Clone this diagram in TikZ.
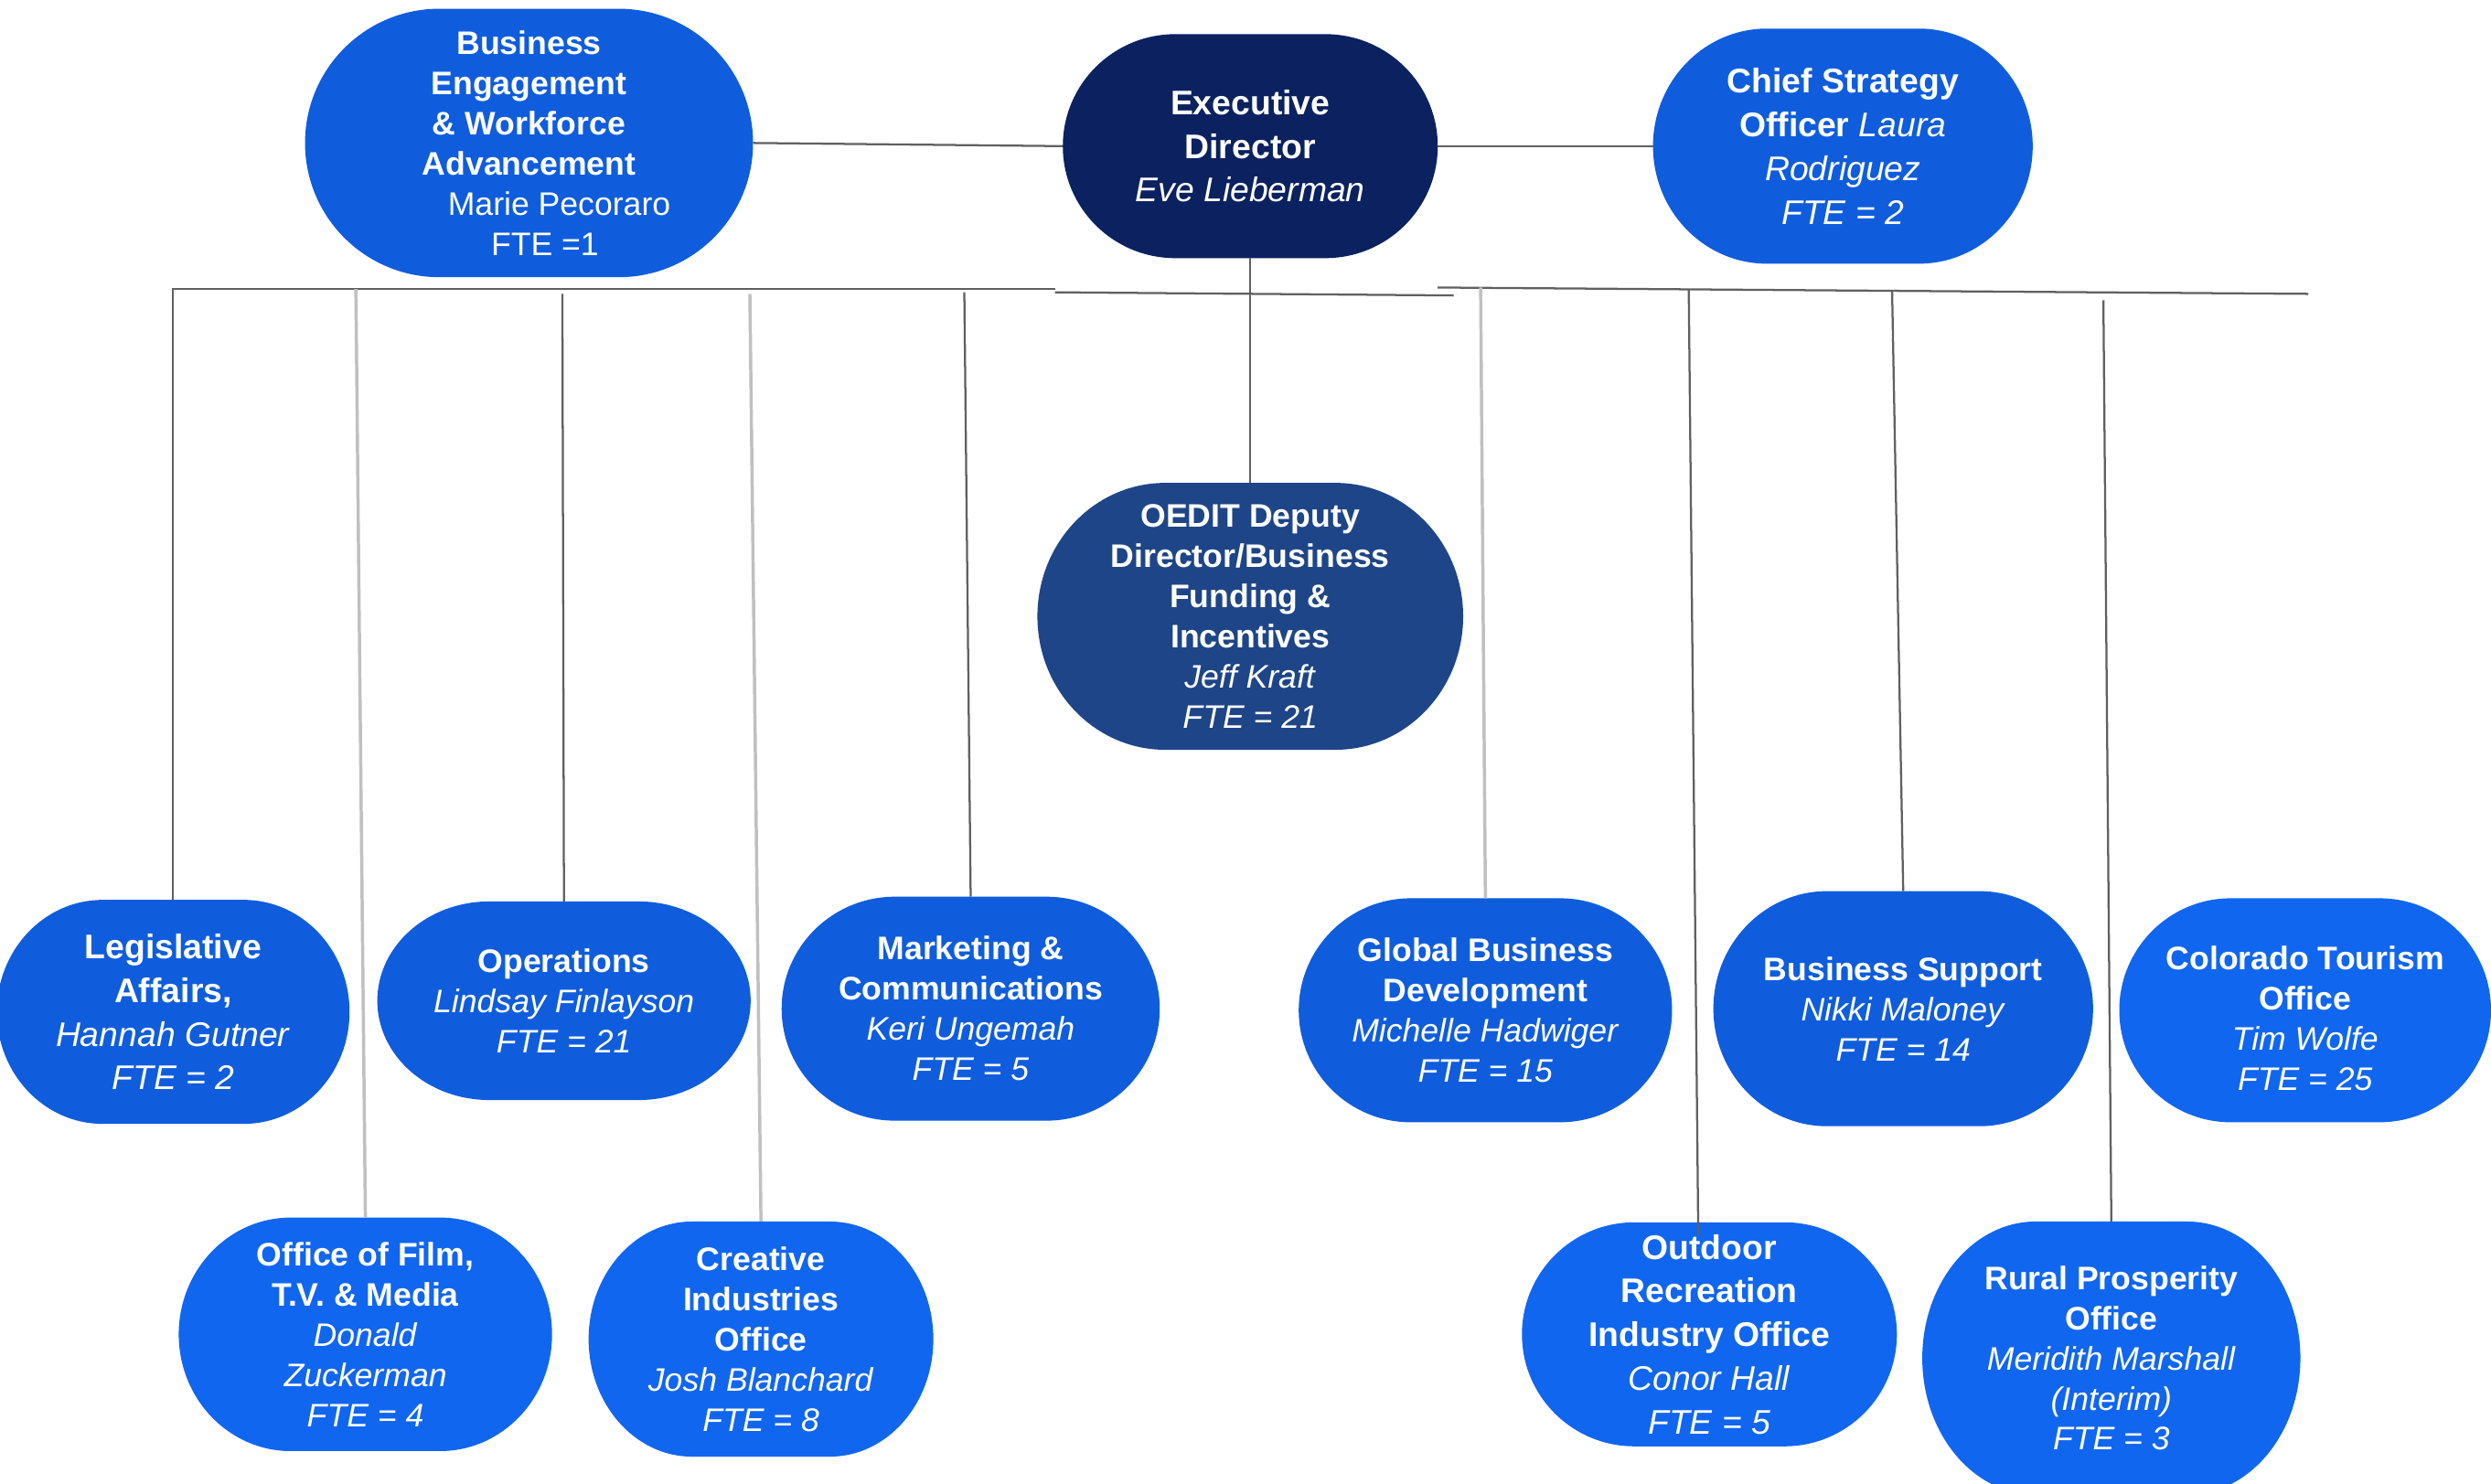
\documentclass[tikz,border=0pt]{standalone}
\usepackage{fontspec}
\setmainfont{Liberation Sans}
\definecolor{bblue}{HTML}{0F5DDD}
\definecolor{lblue}{HTML}{1166EF}
\definecolor{navy}{HTML}{0B2160}
\definecolor{mnavy}{HTML}{1E4587}
\definecolor{dline}{HTML}{606060}
\definecolor{lline}{HTML}{C0C0C0}
\newcommand\mybf[1]{\textbf{#1}}
\newcommand\myit[1]{\textit{#1}}
\newcommand\orgblob[5]{%
  \pgfmathsetmacro\bXl{#1-#3/2}\pgfmathsetmacro\bXr{#1+#3/2}%
  \pgfmathsetmacro\bYt{#2-#4/2}\pgfmathsetmacro\bYb{#2+#4/2}%
  \pgfmathsetmacro\bRx{0.3*#3}\pgfmathsetmacro\bRy{#4/2}%
  \pgfmathsetmacro\bXa{\bXl+\bRx}\pgfmathsetmacro\bXb{\bXr-\bRx}%
  \pgfmathsetmacro\bKx{0.5523*\bRx}\pgfmathsetmacro\bKy{0.5523*\bRy}%
  \fill[#5] (\bXa,\bYt) .. controls (\bXa-\bKx,\bYt) and (\bXl,#2-\bKy) .. (\bXl,#2)
     .. controls (\bXl,#2+\bKy) and (\bXa-\bKx,\bYb) .. (\bXa,\bYb) -- (\bXb,\bYb)
     .. controls (\bXb+\bKx,\bYb) and (\bXr,#2+\bKy) .. (\bXr,#2)
     .. controls (\bXr,#2-\bKy) and (\bXb+\bKx,\bYt) .. (\bXb,\bYt) -- cycle;
}
\newcommand\orgnode[8][]{%
  \orgblob{#3}{#4}{#5}{#6}{#7}
  \node[box, minimum width=#5pt, minimum height=#6pt, #1] (#2) at (#3,#4) {#8};
}
\begin{document}
\begin{tikzpicture}[x=1pt,y=-1pt,
  box/.style={inner sep=0pt, outer sep=0pt, text=white, align=center, font=\fontsize{20.5}{25.3}\selectfont},
  big/.style={font=\fontsize{21.5}{27.5}\selectfont},
  dk/.style={draw=dline, line width=1.3pt},
  lt/.style={draw=lline, line width=2pt}]
\useasboundingbox (0,0) rectangle (1568,934);
\fill[white] (0,0) rectangle (1568,934);

\orgnode{be}{333}{90}{282}{169}{bblue}{\mybf{Business}\\\mybf{Engagement}\\\mybf{\& Workforce}\\\mybf{Advancement}\\\hspace*{38pt}Marie Pecoraro\\\hspace*{20pt}FTE =1}
\orgnode[big]{ed}{787}{92}{236}{141}{navy}{\mybf{Executive}\\\mybf{Director}\\\myit{Eve Lieberman}}
\orgnode[big]{cso}{1160}{92}{239}{148}{bblue}{\mybf{Chief Strategy}\\\mybf{Officer} \myit{Laura}\\\myit{Rodriguez}\\\myit{FTE = 2}}
\orgnode{oedit}{787}{388}{268}{168}{mnavy}{\mybf{OEDIT Deputy}\\\mybf{Director/Business}\\\mybf{Funding \&}\\\mybf{Incentives}\\\myit{Jeff Kraft}\\\myit{FTE = 21}}

\orgnode[big]{leg}{109}{637}{222}{141}{bblue}{\mybf{Legislative}\\\mybf{Affairs,}\\\myit{Hannah Gutner}\\\myit{FTE = 2}}
\orgnode{ops}{355}{630}{235}{125}{bblue}{\mybf{Operations}\\\myit{Lindsay Finlayson}\\\myit{FTE = 21}}
\orgnode{mkt}{611}{635}{238}{141}{bblue}{\mybf{Marketing \&}\\\mybf{Communications}\\\myit{Keri Ungemah}\\\myit{FTE = 5}}
\orgnode{gbd}{935}{636}{235}{141}{bblue}{\mybf{Global Business}\\\mybf{Development}\\\myit{Michelle Hadwiger}\\\myit{FTE = 15}}
\orgnode{bs}{1198}{635}{239}{148}{bblue}{\mybf{Business Support}\\\myit{Nikki Maloney}\\\myit{FTE = 14}}
\orgnode[yshift=-5pt]{cto}{1451}{636}{234}{141}{lblue}{\mybf{Colorado Tourism}\\\mybf{Office}\\\myit{Tim Wolfe}\\\myit{FTE = 25}}

\orgnode{film}{230}{840}{235}{147}{lblue}{\mybf{Office of Film,}\\\mybf{T.V. \& Media}\\\myit{Donald}\\\myit{Zuckerman}\\\myit{FTE = 4}}
\orgnode{cio}{479}{843}{217}{148}{lblue}{\mybf{Creative}\\\mybf{Industries}\\\mybf{Office}\\\myit{Josh Blanchard}\\\myit{FTE = 8}}
\orgnode[big]{ori}{1076}{840}{236}{141}{lblue}{\mybf{Outdoor}\\\mybf{Recreation}\\\mybf{Industry Office}\\\myit{Conor Hall}\\\myit{FTE = 5}}
\orgnode{rpo}{1329}{855}{238}{172}{lblue}{\mybf{Rural Prosperity}\\\mybf{Office}\\\myit{Meridith Marshall}\\\myit{(Interim)}\\\myit{FTE = 3}}

% bus lines
\coordinate (lb1) at (108,182); \coordinate (lb2) at (664,182);
\coordinate (lb3) at (664,184); \coordinate (lb4) at (915,186);
\coordinate (rb1) at (905,181); \coordinate (rb2) at (1453,185);
\draw[dk] (lb1) -- (lb2);
\draw[dk] (lb3) -- (lb4);
\draw[dk] (rb1) -- (rb2);

% top connectors
\draw[dk] (be.east) -- (ed.west);
\draw[dk] (ed.east) -- (cso.west);
\draw[dk] (ed.south) -- (oedit.north);

% drops
\coordinate (tleg) at (109,182);  \draw[dk] (tleg) -- (leg.north);
\coordinate (tfilm) at (224,182); \draw[lt] (tfilm) -- (film.north);
\coordinate (tops) at (354,185);  \draw[dk] (tops) -- (ops.north);
\coordinate (tcio) at (472,185);  \draw[lt] (tcio) -- (cio.north);
\coordinate (tmkt) at (607,184);  \draw[dk] (tmkt) -- (mkt.north);
\coordinate (tgbd) at (932,181);  \draw[lt] (tgbd) -- (gbd.north);
\coordinate (tori) at (1063,182); \draw[dk] (tori) -- ([xshift=-7pt,yshift=-8pt]ori.north);
\coordinate (tbs) at (1191,183);  \draw[dk] (tbs) -- (bs.north);
\coordinate (trpo) at (1324,189); \draw[dk] (trpo) -- (rpo.north);
\end{tikzpicture}
\end{document}
